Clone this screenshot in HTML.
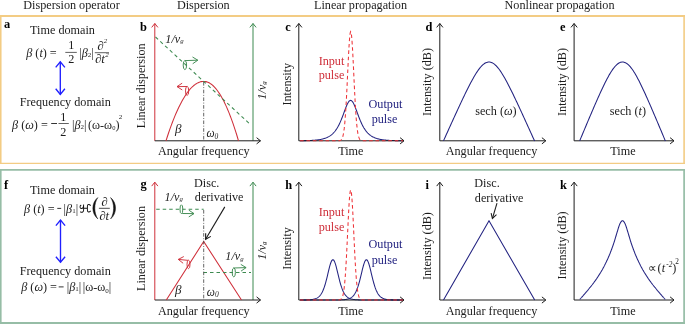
<!DOCTYPE html>
<html><head><meta charset="utf-8"><style>
html,body{margin:0;padding:0;background:#fff;}
svg{display:block;font-family:"Liberation Serif",serif;will-change:transform;}
</style></head><body>
<svg width="685" height="324" viewBox="0 0 685 324">
<rect x="0" y="0" width="685" height="324" fill="#fff"/>
<path d="M0.75,15 V164 M684.1,15 V164" stroke="#f3cc84" stroke-width="1.6" fill="none"/><path d="M0,16 H685" stroke="#f3cc84" stroke-width="2" fill="none"/><path d="M0,163.4 H685" stroke="#f3cc84" stroke-width="1.3" fill="none"/>
<path d="M0.75,169 V324 M684.1,169 V324" stroke="#96bda6" stroke-width="1.7" fill="none"/><path d="M0,169.9 H685" stroke="#96bda6" stroke-width="1.8" fill="none"/><path d="M0,323 H685" stroke="#96bda6" stroke-width="2" fill="none"/>
<path d="M300.00,140.72 L300.43,140.71 L300.86,140.71 L301.29,140.70 L301.72,140.69 L302.15,140.69 L302.57,140.68 L303.00,140.67 L303.43,140.67 L303.86,140.66 L304.29,140.65 L304.72,140.64 L305.15,140.63 L305.58,140.62 L306.01,140.61 L306.44,140.60 L306.87,140.59 L307.30,140.57 L307.73,140.56 L308.15,140.55 L308.58,140.53 L309.01,140.51 L309.44,140.50 L309.87,140.48 L310.30,140.46 L310.73,140.44 L311.16,140.42 L311.59,140.40 L312.02,140.37 L312.45,140.35 L312.88,140.32 L313.30,140.29 L313.73,140.26 L314.16,140.23 L314.59,140.19 L315.02,140.16 L315.45,140.12 L315.88,140.08 L316.31,140.03 L316.74,139.99 L317.17,139.94 L317.60,139.89 L318.02,139.83 L318.45,139.77 L318.88,139.71 L319.31,139.65 L319.74,139.58 L320.17,139.50 L320.60,139.42 L321.03,139.34 L321.46,139.25 L321.89,139.16 L322.32,139.06 L322.75,138.96 L323.18,138.85 L323.60,138.73 L324.03,138.61 L324.46,138.48 L324.89,138.34 L325.32,138.19 L325.75,138.04 L326.18,137.87 L326.61,137.69 L327.04,137.51 L327.47,137.31 L327.90,137.10 L328.32,136.88 L328.75,136.65 L329.18,136.40 L329.61,136.14 L330.04,135.86 L330.47,135.57 L330.90,135.26 L331.33,134.93 L331.76,134.58 L332.19,134.21 L332.62,133.82 L333.05,133.41 L333.48,132.97 L333.90,132.51 L334.33,132.03 L334.76,131.52 L335.19,130.98 L335.62,130.41 L336.05,129.80 L336.48,129.17 L336.91,128.51 L337.34,127.81 L337.77,127.07 L338.20,126.30 L338.62,125.50 L339.05,124.65 L339.48,123.77 L339.91,122.85 L340.34,121.90 L340.77,120.91 L341.20,119.88 L341.63,118.82 L342.06,117.73 L342.49,116.61 L342.92,115.47 L343.35,114.32 L343.77,113.15 L344.20,111.97 L344.63,110.80 L345.06,109.63 L345.49,108.49 L345.92,107.37 L346.35,106.30 L346.78,105.29 L347.21,104.33 L347.64,103.46 L348.07,102.68 L348.50,101.99 L348.93,101.42 L349.35,100.97 L349.78,100.65 L350.21,100.46 L350.64,100.40 L351.07,100.48 L351.50,100.70 L351.93,101.05 L352.36,101.52 L352.79,102.12 L353.22,102.82 L353.65,103.62 L354.07,104.51 L354.50,105.48 L354.93,106.51 L355.36,107.59 L355.79,108.71 L356.22,109.86 L356.65,111.02 L357.08,112.20 L357.51,113.37 L357.94,114.54 L358.37,115.70 L358.80,116.83 L359.23,117.94 L359.65,119.03 L360.08,120.08 L360.51,121.10 L360.94,122.08 L361.37,123.03 L361.80,123.94 L362.23,124.82 L362.66,125.65 L363.09,126.45 L363.52,127.22 L363.95,127.95 L364.38,128.64 L364.80,129.30 L365.23,129.92 L365.66,130.52 L366.09,131.08 L366.52,131.62 L366.95,132.13 L367.38,132.61 L367.81,133.06 L368.24,133.49 L368.67,133.90 L369.10,134.28 L369.52,134.65 L369.95,134.99 L370.38,135.32 L370.81,135.63 L371.24,135.92 L371.67,136.19 L372.10,136.45 L372.53,136.70 L372.96,136.93 L373.39,137.15 L373.82,137.35 L374.25,137.55 L374.68,137.73 L375.10,137.90 L375.53,138.07 L375.96,138.22 L376.39,138.37 L376.82,138.50 L377.25,138.63 L377.68,138.76 L378.11,138.87 L378.54,138.98 L378.97,139.08 L379.40,139.18 L379.82,139.27 L380.25,139.36 L380.68,139.44 L381.11,139.52 L381.54,139.59 L381.97,139.66 L382.40,139.72 L382.83,139.78 L383.26,139.84 L383.69,139.90 L384.12,139.95 L384.55,139.99 L384.98,140.04 L385.40,140.08 L385.83,140.12 L386.26,140.16 L386.69,140.20 L387.12,140.23 L387.55,140.26 L387.98,140.29 L388.41,140.32 L388.84,140.35 L389.27,140.38 L389.70,140.40 L390.12,140.42 L390.55,140.44 L390.98,140.46 L391.41,140.48 L391.84,140.50 L392.27,140.52 L392.70,140.53 L393.13,140.55 L393.56,140.56 L393.99,140.58 L394.42,140.59 L394.85,140.60 L395.27,140.61 L395.70,140.62 L396.13,140.63 L396.56,140.64 L396.99,140.65 L397.42,140.66 L397.85,140.67 L398.28,140.68 L398.71,140.68 L399.14,140.69 L399.57,140.70 L400.00,140.70 L400.43,140.71 L400.85,140.71 L401.28,140.72 L401.71,140.72 L402.14,140.73 L402.57,140.73 L403.00,140.73" stroke="#222280" stroke-width="1.05" fill="none"/>
<path d="M300.00,299.98 L300.43,299.98 L300.86,299.98 L301.29,299.98 L301.72,299.97 L302.15,299.97 L302.57,299.97 L303.00,299.96 L303.43,299.96 L303.86,299.95 L304.29,299.94 L304.72,299.94 L305.15,299.93 L305.58,299.92 L306.01,299.91 L306.44,299.90 L306.87,299.88 L307.30,299.87 L307.73,299.85 L308.15,299.83 L308.58,299.81 L309.01,299.79 L309.44,299.76 L309.87,299.73 L310.30,299.69 L310.73,299.65 L311.16,299.61 L311.59,299.56 L312.02,299.50 L312.45,299.44 L312.88,299.37 L313.30,299.29 L313.73,299.20 L314.16,299.09 L314.59,298.98 L315.02,298.85 L315.45,298.70 L315.88,298.54 L316.31,298.36 L316.74,298.15 L317.17,297.92 L317.60,297.66 L318.02,297.38 L318.45,297.05 L318.88,296.69 L319.31,296.29 L319.74,295.84 L320.17,295.35 L320.60,294.80 L321.03,294.18 L321.46,293.51 L321.89,292.76 L322.32,291.94 L322.75,291.05 L323.18,290.07 L323.60,289.00 L324.03,287.84 L324.46,286.59 L324.89,285.25 L325.32,283.82 L325.75,282.30 L326.18,280.70 L326.61,279.03 L327.04,277.30 L327.47,275.52 L327.90,273.72 L328.32,271.91 L328.75,270.12 L329.18,268.37 L329.61,266.71 L330.04,265.16 L330.47,263.74 L330.90,262.50 L331.33,261.46 L331.76,260.64 L332.19,260.07 L332.62,259.76 L333.05,259.72 L333.48,259.94 L333.90,260.43 L334.33,261.17 L334.76,262.14 L335.19,263.32 L335.62,264.69 L336.05,266.20 L336.48,267.83 L336.91,269.55 L337.34,271.33 L337.77,273.13 L338.20,274.94 L338.62,276.73 L339.05,278.48 L339.48,280.17 L339.91,281.80 L340.34,283.34 L340.77,284.80 L341.20,286.17 L341.63,287.45 L342.06,288.64 L342.49,289.73 L342.92,290.74 L343.35,291.67 L343.77,292.51 L344.20,293.28 L344.63,293.97 L345.06,294.61 L345.49,295.18 L345.92,295.69 L346.35,296.15 L346.78,296.57 L347.21,296.94 L347.64,297.28 L348.07,297.58 L348.50,297.84 L348.93,298.08 L349.35,298.30 L349.78,298.49 L350.21,298.65 L350.64,298.81 L351.07,298.94 L351.50,299.06 L351.93,299.16 L352.36,299.26 L352.79,299.34 L353.22,299.42 L353.65,299.48 L354.07,299.54 L354.50,299.59 L354.93,299.64 L355.36,299.68 L355.79,299.72 L356.22,299.75 L356.65,299.78 L357.08,299.80 L357.51,299.83 L357.94,299.85 L358.37,299.86 L358.80,299.88 L359.23,299.89 L359.65,299.90 L360.08,299.92 L360.51,299.93 L360.94,299.93 L361.37,299.94 L361.80,299.95 L362.23,299.95 L362.66,299.96 L363.09,299.96 L363.52,299.97 L363.95,299.97 L364.38,299.97 L364.80,299.98 L365.23,299.98 L365.66,299.98 L366.09,299.98 L366.52,299.99 L366.95,299.99 L367.38,299.99 L367.81,299.99 L368.24,299.99 L368.67,299.99 L369.10,299.99 L369.52,299.99 L369.95,299.99 L370.38,300.00 L370.81,300.00 L371.24,300.00 L371.67,300.00 L372.10,300.00 L372.53,300.00 L372.96,300.00 L373.39,300.00 L373.82,300.00 L374.25,300.00 L374.68,300.00 L375.10,300.00 L375.53,300.00 L375.96,300.00 L376.39,300.00 L376.82,300.00 L377.25,300.00 L377.68,300.00 L378.11,300.00 L378.54,300.00 L378.97,300.00 L379.40,300.00 L379.82,300.00 L380.25,300.00 L380.68,300.00 L381.11,300.00 L381.54,300.00 L381.97,300.00 L382.40,300.00 L382.83,300.00 L383.26,300.00 L383.69,300.00 L384.12,300.00 L384.55,300.00 L384.98,300.00 L385.40,300.00 L385.83,300.00 L386.26,300.00 L386.69,300.00 L387.12,300.00 L387.55,300.00 L387.98,300.00 L388.41,300.00 L388.84,300.00 L389.27,300.00 L389.70,300.00 L390.12,300.00 L390.55,300.00 L390.98,300.00 L391.41,300.00 L391.84,300.00 L392.27,300.00 L392.70,300.00 L393.13,300.00 L393.56,300.00 L393.99,300.00 L394.42,300.00 L394.85,300.00 L395.27,300.00 L395.70,300.00 L396.13,300.00 L396.56,300.00 L396.99,300.00 L397.42,300.00 L397.85,300.00 L398.28,300.00 L398.71,300.00 L399.14,300.00 L399.57,300.00 L400.00,300.00 L400.43,300.00 L400.85,300.00 L401.28,300.00 L401.71,300.00 L402.14,300.00 L402.57,300.00 L403.00,300.00" stroke="#222280" stroke-width="1.05" fill="none"/>
<path d="M300.00,300.00 L300.43,300.00 L300.86,300.00 L301.29,300.00 L301.72,300.00 L302.15,300.00 L302.57,300.00 L303.00,300.00 L303.43,300.00 L303.86,300.00 L304.29,300.00 L304.72,300.00 L305.15,300.00 L305.58,300.00 L306.01,300.00 L306.44,300.00 L306.87,300.00 L307.30,300.00 L307.73,300.00 L308.15,300.00 L308.58,300.00 L309.01,300.00 L309.44,300.00 L309.87,300.00 L310.30,300.00 L310.73,300.00 L311.16,300.00 L311.59,300.00 L312.02,300.00 L312.45,300.00 L312.88,300.00 L313.30,300.00 L313.73,300.00 L314.16,300.00 L314.59,300.00 L315.02,300.00 L315.45,300.00 L315.88,300.00 L316.31,300.00 L316.74,300.00 L317.17,300.00 L317.60,300.00 L318.02,300.00 L318.45,300.00 L318.88,300.00 L319.31,300.00 L319.74,300.00 L320.17,300.00 L320.60,300.00 L321.03,300.00 L321.46,300.00 L321.89,300.00 L322.32,300.00 L322.75,300.00 L323.18,300.00 L323.60,300.00 L324.03,300.00 L324.46,300.00 L324.89,300.00 L325.32,300.00 L325.75,300.00 L326.18,300.00 L326.61,300.00 L327.04,300.00 L327.47,300.00 L327.90,300.00 L328.32,300.00 L328.75,300.00 L329.18,300.00 L329.61,299.99 L330.04,299.99 L330.47,299.99 L330.90,299.99 L331.33,299.99 L331.76,299.99 L332.19,299.99 L332.62,299.99 L333.05,299.99 L333.48,299.98 L333.90,299.98 L334.33,299.98 L334.76,299.98 L335.19,299.97 L335.62,299.97 L336.05,299.97 L336.48,299.96 L336.91,299.96 L337.34,299.95 L337.77,299.94 L338.20,299.94 L338.62,299.93 L339.05,299.92 L339.48,299.91 L339.91,299.90 L340.34,299.88 L340.77,299.87 L341.20,299.85 L341.63,299.83 L342.06,299.81 L342.49,299.79 L342.92,299.76 L343.35,299.73 L343.77,299.70 L344.20,299.66 L344.63,299.61 L345.06,299.56 L345.49,299.51 L345.92,299.44 L346.35,299.37 L346.78,299.29 L347.21,299.20 L347.64,299.10 L348.07,298.99 L348.50,298.86 L348.93,298.71 L349.35,298.55 L349.78,298.37 L350.21,298.17 L350.64,297.94 L351.07,297.68 L351.50,297.39 L351.93,297.07 L352.36,296.72 L352.79,296.32 L353.22,295.87 L353.65,295.38 L354.07,294.83 L354.50,294.22 L354.93,293.55 L355.36,292.81 L355.79,291.99 L356.22,291.10 L356.65,290.12 L357.08,289.06 L357.51,287.91 L357.94,286.67 L358.37,285.33 L358.80,283.91 L359.23,282.39 L359.65,280.80 L360.08,279.13 L360.51,277.40 L360.94,275.62 L361.37,273.82 L361.80,272.01 L362.23,270.22 L362.66,268.47 L363.09,266.80 L363.52,265.24 L363.95,263.82 L364.38,262.57 L364.80,261.51 L365.23,260.68 L365.66,260.10 L366.09,259.77 L366.52,259.71 L366.95,259.92 L367.38,260.40 L367.81,261.12 L368.24,262.08 L368.67,263.25 L369.10,264.60 L369.52,266.11 L369.95,267.73 L370.38,269.45 L370.81,271.22 L371.24,273.03 L371.67,274.84 L372.10,276.63 L372.53,278.38 L372.96,280.08 L373.39,281.70 L373.82,283.25 L374.25,284.72 L374.68,286.09 L375.10,287.38 L375.53,288.57 L375.96,289.67 L376.39,290.68 L376.82,291.61 L377.25,292.46 L377.68,293.23 L378.11,293.94 L378.54,294.57 L378.97,295.14 L379.40,295.66 L379.82,296.13 L380.25,296.55 L380.68,296.92 L381.11,297.26 L381.54,297.56 L381.97,297.83 L382.40,298.07 L382.83,298.28 L383.26,298.47 L383.69,298.65 L384.12,298.80 L384.55,298.93 L384.98,299.05 L385.40,299.16 L385.83,299.25 L386.26,299.34 L386.69,299.41 L387.12,299.48 L387.55,299.54 L387.98,299.59 L388.41,299.64 L388.84,299.68 L389.27,299.72 L389.70,299.75 L390.12,299.78 L390.55,299.80 L390.98,299.82 L391.41,299.84 L391.84,299.86 L392.27,299.88 L392.70,299.89 L393.13,299.90 L393.56,299.92 L393.99,299.92 L394.42,299.93 L394.85,299.94 L395.27,299.95 L395.70,299.95 L396.13,299.96 L396.56,299.96 L396.99,299.97 L397.42,299.97 L397.85,299.97 L398.28,299.98 L398.71,299.98 L399.14,299.98 L399.57,299.98 L400.00,299.99 L400.43,299.99 L400.85,299.99 L401.28,299.99 L401.71,299.99 L402.14,299.99 L402.57,299.99 L403.00,299.99" stroke="#222280" stroke-width="1.05" fill="none"/>
<text x="71.5" y="9" font-size="12.2" text-anchor="middle" fill="#1c1c1c" >Dispersion operator</text>
<text x="203.3" y="9" font-size="12.2" text-anchor="middle" fill="#1c1c1c" >Dispersion</text>
<text x="360.5" y="9" font-size="12.2" text-anchor="middle" fill="#1c1c1c" >Linear propagation</text>
<text x="559.5" y="9" font-size="12.2" text-anchor="middle" fill="#1c1c1c" >Nonlinear propagation</text>
<text x="4.0" y="27.8" font-size="12.4" text-anchor="start" fill="#000" font-weight="bold">a</text>
<text x="139.9" y="31.2" font-size="12.4" text-anchor="start" fill="#000" font-weight="bold">b</text>
<text x="285.3" y="30.6" font-size="12.4" text-anchor="start" fill="#000" font-weight="bold">c</text>
<text x="425.5" y="30.7" font-size="12.4" text-anchor="start" fill="#000" font-weight="bold">d</text>
<text x="559.9" y="30.6" font-size="12.4" text-anchor="start" fill="#000" font-weight="bold">e</text>
<path d="M154.8,140.8 L154.8,23.5" stroke="#cf2f3a" stroke-width="1.0" fill="none"/><path d="M151.70000000000002,27.4 L154.8,23.5 L157.9,27.4" stroke="#cf2f3a" stroke-width="1.0" fill="none"/>
<path d="M253,140.8 L253,23.5" stroke="#3d8a50" stroke-width="1.0" fill="none"/><path d="M249.9,27.4 L253,23.5 L256.1,27.4" stroke="#3d8a50" stroke-width="1.0" fill="none"/>
<path d="M154.8,140.8 L260.5,140.8" stroke="#1c1c1c" stroke-width="1.0" fill="none"/><path d="M256.6,137.70000000000002 L260.5,140.8 L256.6,143.9" stroke="#1c1c1c" stroke-width="1.0" fill="none"/>
<text transform="translate(145.3,85.8) rotate(-90)" font-size="12.2" text-anchor="middle" fill="#1c1c1c" >Linear dispersion</text>
<text transform="translate(265.6,90.4) rotate(-90)" font-size="12" text-anchor="middle" fill="#1c1c1c" font-style="italic">1/v<tspan font-size="6.8" dy="0.4">g</tspan></text>
<text x="203.8" y="155" font-size="12.2" text-anchor="middle" fill="#1c1c1c" >Angular frequency</text>
<path d="M298.8,140.8 L298.8,23.5" stroke="#1c1c1c" stroke-width="1.0" fill="none"/><path d="M295.7,27.4 L298.8,23.5 L301.90000000000003,27.4" stroke="#1c1c1c" stroke-width="1.0" fill="none"/>
<path d="M298.8,140.8 L404,140.8" stroke="#1c1c1c" stroke-width="1.0" fill="none"/><path d="M400.1,137.70000000000002 L404,140.8 L400.1,143.9" stroke="#1c1c1c" stroke-width="1.0" fill="none"/>
<text transform="translate(290.9,84.2) rotate(-90)" font-size="12.2" text-anchor="middle" fill="#1c1c1c" >Intensity</text>
<text x="350.8" y="155.4" font-size="12.2" text-anchor="middle" fill="#1c1c1c" >Time</text>
<path d="M439.8,140.8 L439.8,23.5" stroke="#1c1c1c" stroke-width="1.0" fill="none"/><path d="M436.7,27.4 L439.8,23.5 L442.90000000000003,27.4" stroke="#1c1c1c" stroke-width="1.0" fill="none"/>
<path d="M439.8,140.8 L545.8,140.8" stroke="#1c1c1c" stroke-width="1.0" fill="none"/><path d="M541.9,137.70000000000002 L545.8,140.8 L541.9,143.9" stroke="#1c1c1c" stroke-width="1.0" fill="none"/>
<text transform="translate(431.3,82) rotate(-90)" font-size="12.2" text-anchor="middle" fill="#1c1c1c" >Intensity (dB)</text>
<text x="491.5" y="155" font-size="12.2" text-anchor="middle" fill="#1c1c1c" >Angular frequency</text>
<path d="M574.1,140.8 L574.1,23.5" stroke="#1c1c1c" stroke-width="1.0" fill="none"/><path d="M571.0,27.4 L574.1,23.5 L577.2,27.4" stroke="#1c1c1c" stroke-width="1.0" fill="none"/>
<path d="M574.1,140.8 L674,140.8" stroke="#1c1c1c" stroke-width="1.0" fill="none"/><path d="M670.1,137.70000000000002 L674,140.8 L670.1,143.9" stroke="#1c1c1c" stroke-width="1.0" fill="none"/>
<text transform="translate(565.9,82) rotate(-90)" font-size="12.2" text-anchor="middle" fill="#1c1c1c" >Intensity (dB)</text>
<text x="623" y="155" font-size="12.2" text-anchor="middle" fill="#1c1c1c" >Time</text>
<text x="331.5" y="64.8" font-size="12.2" text-anchor="middle" fill="#cf2f3a" >Input</text>
<text x="331.5" y="79.1" font-size="12.2" text-anchor="middle" fill="#cf2f3a" >pulse</text>
<text x="385.5" y="108" font-size="12.2" text-anchor="middle" fill="#222280" >Output</text>
<text x="384.5" y="122.7" font-size="12.2" text-anchor="middle" fill="#222280" >pulse</text>
<text x="4.0" y="189.2" font-size="12.4" text-anchor="start" fill="#000" font-weight="bold">f</text>
<text x="140.4" y="188.4" font-size="12.4" text-anchor="start" fill="#000" font-weight="bold">g</text>
<text x="285.3" y="189.2" font-size="12.4" text-anchor="start" fill="#000" font-weight="bold">h</text>
<text x="425.5" y="189.2" font-size="12.4" text-anchor="start" fill="#000" font-weight="bold">i</text>
<text x="559.9" y="189.2" font-size="12.4" text-anchor="start" fill="#000" font-weight="bold">k</text>
<path d="M154.8,300.0 L154.8,182.2" stroke="#cf2f3a" stroke-width="1.0" fill="none"/><path d="M151.70000000000002,186.1 L154.8,182.2 L157.9,186.1" stroke="#cf2f3a" stroke-width="1.0" fill="none"/>
<path d="M253,300.0 L253,182.2" stroke="#3d8a50" stroke-width="1.0" fill="none"/><path d="M249.9,186.1 L253,182.2 L256.1,186.1" stroke="#3d8a50" stroke-width="1.0" fill="none"/>
<path d="M154.8,300.0 L260.5,300.0" stroke="#1c1c1c" stroke-width="1.0" fill="none"/><path d="M256.6,296.9 L260.5,300.0 L256.6,303.1" stroke="#1c1c1c" stroke-width="1.0" fill="none"/>
<text transform="translate(145.3,248.5) rotate(-90)" font-size="12.2" text-anchor="middle" fill="#1c1c1c" >Linear dispersion</text>
<text transform="translate(265.6,250.6) rotate(-90)" font-size="12" text-anchor="middle" fill="#1c1c1c" font-style="italic">1/v<tspan font-size="6.8" dy="0.4">g</tspan></text>
<text x="203.8" y="314.8" font-size="12.2" text-anchor="middle" fill="#1c1c1c" >Angular frequency</text>
<path d="M298.8,300.0 L298.8,182.2" stroke="#1c1c1c" stroke-width="1.0" fill="none"/><path d="M295.7,186.1 L298.8,182.2 L301.90000000000003,186.1" stroke="#1c1c1c" stroke-width="1.0" fill="none"/>
<path d="M298.8,300.0 L404,300.0" stroke="#1c1c1c" stroke-width="1.0" fill="none"/><path d="M400.1,296.9 L404,300.0 L400.1,303.1" stroke="#1c1c1c" stroke-width="1.0" fill="none"/>
<text transform="translate(290.9,248.39999999999998) rotate(-90)" font-size="12.2" text-anchor="middle" fill="#1c1c1c" >Intensity</text>
<text x="350.8" y="315.1" font-size="12.2" text-anchor="middle" fill="#1c1c1c" >Time</text>
<path d="M439.8,300.0 L439.8,182.2" stroke="#1c1c1c" stroke-width="1.0" fill="none"/><path d="M436.7,186.1 L439.8,182.2 L442.90000000000003,186.1" stroke="#1c1c1c" stroke-width="1.0" fill="none"/>
<path d="M439.8,300.0 L545.8,300.0" stroke="#1c1c1c" stroke-width="1.0" fill="none"/><path d="M541.9,296.9 L545.8,300.0 L541.9,303.1" stroke="#1c1c1c" stroke-width="1.0" fill="none"/>
<text transform="translate(431.3,246.1) rotate(-90)" font-size="12.2" text-anchor="middle" fill="#1c1c1c" >Intensity (dB)</text>
<text x="491.5" y="314.9" font-size="12.2" text-anchor="middle" fill="#1c1c1c" >Angular frequency</text>
<path d="M574.1,300.0 L574.1,182.2" stroke="#1c1c1c" stroke-width="1.0" fill="none"/><path d="M571.0,186.1 L574.1,182.2 L577.2,186.1" stroke="#1c1c1c" stroke-width="1.0" fill="none"/>
<path d="M574.1,300.0 L674,300.0" stroke="#1c1c1c" stroke-width="1.0" fill="none"/><path d="M670.1,296.9 L674,300.0 L670.1,303.1" stroke="#1c1c1c" stroke-width="1.0" fill="none"/>
<text transform="translate(565.9,245.39999999999998) rotate(-90)" font-size="12.2" text-anchor="middle" fill="#1c1c1c" >Intensity (dB)</text>
<text x="623" y="314.9" font-size="12.2" text-anchor="middle" fill="#1c1c1c" >Time</text>
<text x="331.5" y="216" font-size="12.2" text-anchor="middle" fill="#cf2f3a" >Input</text>
<text x="331.5" y="231" font-size="12.2" text-anchor="middle" fill="#cf2f3a" >pulse</text>
<text x="385.5" y="248" font-size="12.2" text-anchor="middle" fill="#222280" >Output</text>
<text x="384.5" y="264.3" font-size="12.2" text-anchor="middle" fill="#222280" >pulse</text>
<text x="62.5" y="34" font-size="12.2" text-anchor="middle" fill="#1c1c1c" >Time domain</text>
<text x="65.3" y="106" font-size="12.2" text-anchor="middle" fill="#1c1c1c" >Frequency domain</text>
<text x="62.5" y="193.5" font-size="12.2" text-anchor="middle" fill="#1c1c1c" >Time domain</text>
<text x="65.3" y="274.7" font-size="12.2" text-anchor="middle" fill="#1c1c1c" >Frequency domain</text>
<path d="M60.3,61.8 L60.3,94.4" stroke="#1f1fff" stroke-width="1.35" fill="none"/><path d="M55.699999999999996,67.39999999999999 L60.3,61.8 L64.89999999999999,67.39999999999999" stroke="#1f1fff" stroke-width="1.35" fill="none"/><path d="M55.699999999999996,88.80000000000001 L60.3,94.4 L64.89999999999999,88.80000000000001" stroke="#1f1fff" stroke-width="1.35" fill="none"/>
<path d="M60.5,220 L60.5,262.3" stroke="#1f1fff" stroke-width="1.35" fill="none"/><path d="M55.9,225.6 L60.5,220 L65.1,225.6" stroke="#1f1fff" stroke-width="1.35" fill="none"/><path d="M55.9,256.7 L60.5,262.3 L65.1,256.7" stroke="#1f1fff" stroke-width="1.35" fill="none"/>
<text x="26.2" y="57.3" font-size="12.2" fill="#1c1c1c"><tspan font-style="italic">β</tspan> (<tspan font-style="italic">t</tspan>) =</text>
<text x="71.2" y="49.3" font-size="12.2" text-anchor="middle" fill="#1c1c1c" >1</text>
<path d="M65.3,52.4 H76.8" stroke="#1c1c1c" stroke-width="0.7"/>
<text x="71.2" y="62.8" font-size="12.2" text-anchor="middle" fill="#1c1c1c" >2</text>
<text x="79.3" y="57.3" font-size="12.2" fill="#1c1c1c">|<tspan font-style="italic">β</tspan><tspan font-size="7">2</tspan>|</text>
<text x="97.2" y="50" font-size="12.8" fill="#1c1c1c" font-style="italic">∂<tspan font-size="7" dy="-7" dx="0.3">2</tspan></text>
<path d="M94.8,52.7 H109" stroke="#1c1c1c" stroke-width="0.7"/>
<text x="95" y="63" font-size="12.8" fill="#1c1c1c" font-style="italic">∂t<tspan font-size="7" dy="-6" dx="0.3">2</tspan></text>
<text x="12" y="128.7" font-size="12.2" fill="#1c1c1c"><tspan font-style="italic">β</tspan> (<tspan font-style="italic">ω</tspan>) =</text>
<text x="63.3" y="120.5" font-size="12.2" text-anchor="middle" fill="#1c1c1c" >1</text>
<path d="M51.2,123.5 H57" stroke="#1c1c1c" stroke-width="0.9"/>
<path d="M58.5,123.5 H68.8" stroke="#1c1c1c" stroke-width="0.7"/>
<text x="63.3" y="135.8" font-size="12.2" text-anchor="middle" fill="#1c1c1c" >2</text>
<text x="72" y="128.7" font-size="12.2" fill="#1c1c1c">|<tspan font-style="italic">β</tspan><tspan font-size="7">2</tspan>|<tspan dx="1.5">(ω-ω</tspan><tspan font-size="6.5" dy="1.5">0</tspan><tspan dy="-1.5">)</tspan><tspan font-size="7" dy="-10.2" dx="-0.6">2</tspan></text>
<text x="24" y="213" font-size="12.2" fill="#1c1c1c"><tspan font-style="italic">β</tspan> (<tspan font-style="italic">t</tspan>) =</text>
<path d="M57.3,208.4 H61.2" stroke="#1c1c1c" stroke-width="0.9"/>
<text x="63.6" y="213" font-size="12.2" fill="#1c1c1c">|<tspan font-style="italic">β</tspan><tspan font-size="7">1</tspan>|</text>
<path d="M80.1,205.3 C78.6,206.2 78.8,208.4 80.6,208.5 C82.4,208.6 83.2,207.4 83.2,204.4 L83.2,210.2 C83.2,211.8 81.6,212.6 79.7,211.9 M83.2,208.2 H87.5 M90.9,205.4 C90.2,204.3 87.5,203.9 87.5,206 L87.5,210.2 C87.5,212.2 89.5,212.6 91,211.2" stroke="#111" stroke-width="1.05" fill="none" stroke-linecap="round" transform="translate(85.2,0) scale(0.88,1) translate(-85,0)"/>
<path d="M97.8,197.6 C91.2,203 91.2,213.5 97.8,218.9 C93.8,213 93.8,203.5 97.8,197.6 Z" fill="#111" stroke="#111" stroke-width="0.5"/>
<path d="M110.6,197.6 C117.2,203 117.2,213.5 110.6,218.9 C114.6,213 114.6,203.5 110.6,197.6 Z" fill="#111" stroke="#111" stroke-width="0.5"/>
<text x="104.5" y="205.6" font-size="12.8" fill="#1c1c1c" font-style="italic" text-anchor="middle">∂</text>
<path d="M98.9,208.3 H109.8" stroke="#1c1c1c" stroke-width="0.8"/>
<text x="104.2" y="219.5" font-size="12.8" fill="#1c1c1c" font-style="italic" text-anchor="middle">∂t</text>
<text x="21.2" y="291.3" font-size="12.2" fill="#1c1c1c"><tspan font-style="italic">β</tspan> (<tspan font-style="italic">ω</tspan>) =</text>
<path d="M58.7,286.9 H63.6" stroke="#1c1c1c" stroke-width="0.9"/>
<text x="66.8" y="291.3" font-size="12.2" fill="#1c1c1c">|<tspan font-style="italic">β</tspan><tspan font-size="7">1</tspan>|</text>
<text x="82.8" y="291.3" font-size="12.2" fill="#1c1c1c">|ω-ω<tspan font-size="7" dy="1.5">0</tspan><tspan dy="-1.5">|</tspan></text>
<path d="M166.00,140.80 L166.91,137.98 L167.81,135.23 L168.72,132.54 L169.62,129.93 L170.53,127.38 L171.44,124.90 L172.34,122.49 L173.25,120.15 L174.16,117.88 L175.06,115.67 L175.97,113.54 L176.88,111.47 L177.78,109.48 L178.69,107.55 L179.59,105.69 L180.50,103.89 L181.41,102.17 L182.31,100.52 L183.22,98.93 L184.12,97.41 L185.03,95.97 L185.94,94.59 L186.84,93.27 L187.75,92.03 L188.66,90.86 L189.56,89.75 L190.47,88.72 L191.38,87.75 L192.28,86.85 L193.19,86.02 L194.09,85.26 L195.00,84.56 L195.91,83.94 L196.81,83.38 L197.72,82.90 L198.62,82.48 L199.53,82.13 L200.44,81.84 L201.34,81.63 L202.25,81.49 L203.16,81.41 L204.06,81.41 L204.97,81.48 L205.88,81.63 L206.78,81.87 L207.69,82.18 L208.59,82.57 L209.50,83.05 L210.41,83.61 L211.31,84.24 L212.22,84.96 L213.12,85.76 L214.03,86.64 L214.94,87.59 L215.84,88.63 L216.75,89.75 L217.66,90.95 L218.56,92.23 L219.47,93.60 L220.38,95.04 L221.28,96.56 L222.19,98.16 L223.09,99.85 L224.00,101.61 L224.91,103.46 L225.81,105.38 L226.72,107.39 L227.62,109.48 L228.53,111.64 L229.44,113.89 L230.34,116.22 L231.25,118.63 L232.16,121.12 L233.06,123.69 L233.97,126.34 L234.88,129.07 L235.78,131.88 L236.69,134.77 L237.59,137.75 L238.50,140.80" stroke="#cf2f3a" stroke-width="1.05" fill="none"/>
<path d="M155.5,37 L250.7,124.8" stroke="#3d8a50" stroke-width="1.05" stroke-dasharray="3.5,3" fill="none"/>
<path d="M203.7,82 V140.4" stroke="#484848" stroke-width="0.85" stroke-dasharray="3.6,1.6,0.9,1.6" fill="none"/>
<text x="165.3" y="42.9" font-size="12.2" fill="#1c1c1c" font-style="italic">1/v<tspan font-size="6.8" dy="0.4">g</tspan></text>
<text x="174.9" y="133" font-size="13" fill="#1c1c1c" font-style="italic">β</text>
<text x="206.4" y="137.2" font-size="11.5" fill="#1c1c1c" font-style="italic">ω<tspan font-size="7.5" dy="1.3">0</tspan></text>
<ellipse cx="184.9" cy="65.1" rx="1.7" ry="4.5" stroke="#3d8a50" stroke-width="0.95" fill="none"/><path d="M184.90,60.60 L197.80,60.20" stroke="#3d8a50" stroke-width="0.95" fill="none"/><path d="M192.71,63.74 L197.80,60.20 L192.50,56.99" stroke="#3d8a50" stroke-width="0.95" fill="none"/>
<ellipse cx="187.1" cy="90.9" rx="1.6" ry="4.5" stroke="#cf2f3a" stroke-width="0.95" fill="none"/><path d="M187.10,86.50 L177.00,86.60" stroke="#cf2f3a" stroke-width="0.95" fill="none"/><path d="M182.17,83.17 L177.00,86.60 L182.23,89.93" stroke="#cf2f3a" stroke-width="0.95" fill="none"/>
<path d="M300.00,140.80 L300.43,140.80 L300.86,140.80 L301.29,140.80 L301.72,140.80 L302.15,140.80 L302.57,140.80 L303.00,140.80 L303.43,140.80 L303.86,140.80 L304.29,140.80 L304.72,140.80 L305.15,140.80 L305.58,140.80 L306.01,140.80 L306.44,140.80 L306.87,140.80 L307.30,140.80 L307.73,140.80 L308.15,140.80 L308.58,140.80 L309.01,140.80 L309.44,140.80 L309.87,140.80 L310.30,140.80 L310.73,140.80 L311.16,140.80 L311.59,140.80 L312.02,140.80 L312.45,140.80 L312.88,140.80 L313.30,140.80 L313.73,140.80 L314.16,140.80 L314.59,140.80 L315.02,140.80 L315.45,140.80 L315.88,140.80 L316.31,140.80 L316.74,140.80 L317.17,140.80 L317.60,140.80 L318.02,140.80 L318.45,140.80 L318.88,140.80 L319.31,140.80 L319.74,140.80 L320.17,140.80 L320.60,140.80 L321.03,140.80 L321.46,140.80 L321.89,140.80 L322.32,140.80 L322.75,140.80 L323.18,140.80 L323.60,140.80 L324.03,140.80 L324.46,140.80 L324.89,140.80 L325.32,140.80 L325.75,140.80 L326.18,140.80 L326.61,140.80 L327.04,140.80 L327.47,140.80 L327.90,140.80 L328.32,140.80 L328.75,140.80 L329.18,140.80 L329.61,140.80 L330.04,140.80 L330.47,140.80 L330.90,140.80 L331.33,140.80 L331.76,140.80 L332.19,140.80 L332.62,140.80 L333.05,140.80 L333.48,140.80 L333.90,140.80 L334.33,140.80 L334.76,140.80 L335.19,140.80 L335.62,140.80 L336.05,140.80 L336.48,140.80 L336.91,140.79 L337.34,140.79 L337.77,140.78 L338.20,140.77 L338.62,140.74 L339.05,140.71 L339.48,140.64 L339.91,140.54 L340.34,140.39 L340.77,140.15 L341.20,139.80 L341.63,139.29 L342.06,138.56 L342.49,137.53 L342.92,136.13 L343.35,134.25 L343.77,131.78 L344.20,128.63 L344.63,124.69 L345.06,119.88 L345.49,114.15 L345.92,107.49 L346.35,99.96 L346.78,91.68 L347.21,82.84 L347.64,73.70 L348.07,64.60 L348.50,55.91 L348.93,48.03 L349.35,41.33 L349.78,36.18 L350.21,32.84 L350.64,31.52 L351.07,32.28 L351.50,35.08 L351.93,39.76 L352.36,46.07 L352.79,53.67 L353.22,62.18 L353.65,71.21 L354.07,80.37 L354.50,89.32 L354.93,97.78 L355.36,105.53 L355.79,112.43 L356.22,118.42 L356.65,123.47 L357.08,127.64 L357.51,131.00 L357.94,133.64 L358.37,135.67 L358.80,137.19 L359.23,138.31 L359.65,139.11 L360.08,139.68 L360.51,140.07 L360.94,140.33 L361.37,140.51 L361.80,140.62 L362.23,140.69 L362.66,140.74 L363.09,140.76 L363.52,140.78 L363.95,140.79 L364.38,140.79 L364.80,140.80 L365.23,140.80 L365.66,140.80 L366.09,140.80 L366.52,140.80 L366.95,140.80 L367.38,140.80 L367.81,140.80 L368.24,140.80 L368.67,140.80 L369.10,140.80 L369.52,140.80 L369.95,140.80 L370.38,140.80 L370.81,140.80 L371.24,140.80 L371.67,140.80 L372.10,140.80 L372.53,140.80 L372.96,140.80 L373.39,140.80 L373.82,140.80 L374.25,140.80 L374.68,140.80 L375.10,140.80 L375.53,140.80 L375.96,140.80 L376.39,140.80 L376.82,140.80 L377.25,140.80 L377.68,140.80 L378.11,140.80 L378.54,140.80 L378.97,140.80 L379.40,140.80 L379.82,140.80 L380.25,140.80 L380.68,140.80 L381.11,140.80 L381.54,140.80 L381.97,140.80 L382.40,140.80 L382.83,140.80 L383.26,140.80 L383.69,140.80 L384.12,140.80 L384.55,140.80 L384.98,140.80 L385.40,140.80 L385.83,140.80 L386.26,140.80 L386.69,140.80 L387.12,140.80 L387.55,140.80 L387.98,140.80 L388.41,140.80 L388.84,140.80 L389.27,140.80 L389.70,140.80 L390.12,140.80 L390.55,140.80 L390.98,140.80 L391.41,140.80 L391.84,140.80 L392.27,140.80 L392.70,140.80 L393.13,140.80 L393.56,140.80 L393.99,140.80 L394.42,140.80 L394.85,140.80 L395.27,140.80 L395.70,140.80 L396.13,140.80 L396.56,140.80 L396.99,140.80 L397.42,140.80 L397.85,140.80 L398.28,140.80 L398.71,140.80 L399.14,140.80 L399.57,140.80 L400.00,140.80 L400.43,140.80 L400.85,140.80 L401.28,140.80 L401.71,140.80 L402.14,140.80 L402.57,140.80 L403.00,140.80" stroke="#ee3338" stroke-width="1.05" stroke-dasharray="3.6,2.8" fill="none"/>
<path d="M443.50,140.80 L444.26,139.12 L445.02,137.44 L445.78,135.76 L446.54,134.09 L447.30,132.41 L448.06,130.74 L448.81,129.06 L449.57,127.39 L450.33,125.72 L451.09,124.05 L451.85,122.38 L452.61,120.72 L453.37,119.05 L454.13,117.39 L454.89,115.74 L455.65,114.08 L456.41,112.43 L457.17,110.78 L457.92,109.14 L458.68,107.50 L459.44,105.87 L460.20,104.24 L460.96,102.62 L461.72,101.01 L462.48,99.40 L463.24,97.81 L464.00,96.22 L464.76,94.64 L465.52,93.08 L466.28,91.52 L467.03,89.99 L467.79,88.46 L468.55,86.96 L469.31,85.47 L470.07,84.00 L470.83,82.56 L471.59,81.14 L472.35,79.75 L473.11,78.39 L473.87,77.05 L474.63,75.76 L475.38,74.50 L476.14,73.28 L476.90,72.11 L477.66,70.98 L478.42,69.90 L479.18,68.88 L479.94,67.92 L480.70,67.01 L481.46,66.17 L482.22,65.40 L482.98,64.70 L483.74,64.08 L484.50,63.53 L485.25,63.06 L486.01,62.68 L486.77,62.38 L487.53,62.16 L488.29,62.04 L489.05,62.00 L489.81,62.05 L490.57,62.19 L491.33,62.41 L492.09,62.72 L492.85,63.12 L493.61,63.60 L494.36,64.16 L495.12,64.79 L495.88,65.50 L496.64,66.28 L497.40,67.13 L498.16,68.04 L498.92,69.01 L499.68,70.04 L500.44,71.13 L501.20,72.26 L501.96,73.44 L502.72,74.66 L503.47,75.93 L504.23,77.23 L504.99,78.56 L505.75,79.93 L506.51,81.33 L507.27,82.75 L508.03,84.20 L508.79,85.67 L509.55,87.15 L510.31,88.66 L511.07,90.19 L511.83,91.73 L512.58,93.28 L513.34,94.85 L514.10,96.43 L514.86,98.02 L515.62,99.61 L516.38,101.22 L517.14,102.84 L517.90,104.46 L518.66,106.08 L519.42,107.72 L520.18,109.36 L520.94,111.00 L521.69,112.65 L522.45,114.30 L523.21,115.95 L523.97,117.61 L524.73,119.27 L525.49,120.94 L526.25,122.60 L527.01,124.27 L527.77,125.94 L528.53,127.61 L529.29,129.28 L530.05,130.96 L530.80,132.63 L531.56,134.31 L532.32,135.98 L533.08,137.66 L533.84,139.34 L534.60,141.02" stroke="#222280" stroke-width="1.05" fill="none"/>
<text x="475.2" y="115.4" font-size="12.2" fill="#1c1c1c">sech (<tspan font-style="italic">ω</tspan>)</text>
<path d="M579.70,140.80 L580.41,139.09 L581.13,137.39 L581.84,135.68 L582.56,133.98 L583.27,132.28 L583.99,130.58 L584.70,128.88 L585.41,127.18 L586.13,125.49 L586.84,123.80 L587.56,122.11 L588.27,120.42 L588.98,118.73 L589.70,117.05 L590.41,115.37 L591.13,113.70 L591.84,112.03 L592.56,110.37 L593.27,108.71 L593.98,107.05 L594.70,105.41 L595.41,103.77 L596.13,102.13 L596.84,100.51 L597.55,98.90 L598.27,97.29 L598.98,95.70 L599.70,94.12 L600.41,92.55 L601.12,91.00 L601.84,89.46 L602.55,87.94 L603.27,86.44 L603.98,84.96 L604.70,83.50 L605.41,82.07 L606.12,80.66 L606.84,79.29 L607.55,77.94 L608.27,76.63 L608.98,75.36 L609.70,74.12 L610.41,72.93 L611.12,71.78 L611.84,70.68 L612.55,69.63 L613.27,68.63 L613.98,67.70 L614.69,66.82 L615.41,66.01 L616.12,65.27 L616.84,64.59 L617.55,63.99 L618.26,63.47 L618.98,63.02 L619.69,62.65 L620.41,62.36 L621.12,62.16 L621.84,62.04 L622.55,62.00 L623.26,62.05 L623.98,62.18 L624.69,62.40 L625.41,62.70 L626.12,63.08 L626.84,63.53 L627.55,64.07 L628.26,64.68 L628.98,65.37 L629.69,66.12 L630.41,66.94 L631.12,67.83 L631.83,68.77 L632.55,69.77 L633.26,70.83 L633.98,71.94 L634.69,73.09 L635.40,74.29 L636.12,75.53 L636.83,76.81 L637.55,78.13 L638.26,79.48 L638.98,80.86 L639.69,82.27 L640.40,83.70 L641.12,85.17 L641.83,86.65 L642.55,88.15 L643.26,89.67 L643.98,91.21 L644.69,92.77 L645.40,94.34 L646.12,95.92 L646.83,97.52 L647.55,99.12 L648.26,100.74 L648.97,102.36 L649.69,104.00 L650.40,105.64 L651.12,107.29 L651.83,108.94 L652.54,110.60 L653.26,112.27 L653.97,113.93 L654.69,115.61 L655.40,117.29 L656.12,118.97 L656.83,120.65 L657.54,122.34 L658.26,124.03 L658.97,125.73 L659.69,127.42 L660.40,129.12 L661.12,130.82 L661.83,132.52 L662.54,134.22 L663.26,135.92 L663.97,137.63 L664.69,139.33 L665.40,141.04" stroke="#222280" stroke-width="1.05" fill="none"/>
<text x="609.8" y="115.4" font-size="12.2" fill="#1c1c1c">sech (<tspan font-style="italic">t</tspan>)</text>
<path d="M166.3,300.0 L203.7,241.5 L241.5,300.0" stroke="#cf2f3a" stroke-width="1.05" fill="none" stroke-linejoin="miter"/>
<path d="M156.2,209.3 H203.7" stroke="#3d8a50" stroke-width="1.05" stroke-dasharray="3.5,3" fill="none"/>
<path d="M203.5,272.4 H251" stroke="#3d8a50" stroke-width="1.05" stroke-dasharray="3.5,3" fill="none"/>
<path d="M203.7,210 V300.0" stroke="#484848" stroke-width="0.85" stroke-dasharray="3.6,1.6,0.9,1.6" fill="none"/>
<text x="164.6" y="200.5" font-size="12.2" fill="#1c1c1c" font-style="italic">1/v<tspan font-size="6.8" dy="0.4">g</tspan></text>
<text x="225.3" y="260.4" font-size="12.2" fill="#1c1c1c" font-style="italic">1/v<tspan font-size="6.8" dy="0.4">g</tspan></text>
<text x="174.9" y="294" font-size="13" fill="#1c1c1c" font-style="italic">β</text>
<text x="206.8" y="296" font-size="11.5" fill="#1c1c1c" font-style="italic">ω<tspan font-size="7.5" dy="1.3">0</tspan></text>
<text x="194.0" y="186.9" font-size="12.2" text-anchor="start" fill="#1c1c1c" >Disc.</text>
<text x="194.8" y="200.8" font-size="12.2" text-anchor="start" fill="#1c1c1c" >derivative</text>
<path d="M224.80,206.90 L205.60,239.30" stroke="#1c1c1c" stroke-width="1.1" fill="none"/><path d="M205.67,233.30 L205.60,239.30 L210.83,236.36" stroke="#1c1c1c" stroke-width="1.1" fill="none"/>
<ellipse cx="181.4" cy="209.2" rx="1.4" ry="4.4" stroke="#3d8a50" stroke-width="0.95" fill="none"/><path d="M182.20,213.50 L194.00,213.60" stroke="#3d8a50" stroke-width="0.95" fill="none"/><path d="M188.77,216.93 L194.00,213.60 L188.83,210.18" stroke="#3d8a50" stroke-width="0.95" fill="none"/>
<ellipse cx="233.8" cy="272.4" rx="1.6" ry="4.5" stroke="#3d8a50" stroke-width="0.95" fill="none"/><path d="M233.50,268.00 L246.10,267.60" stroke="#3d8a50" stroke-width="0.95" fill="none"/><path d="M241.01,271.14 L246.10,267.60 L240.80,264.39" stroke="#3d8a50" stroke-width="0.95" fill="none"/>
<ellipse cx="188.5" cy="264.4" rx="1.5" ry="4.2" stroke="#cf2f3a" stroke-width="0.95" fill="none"/><path d="M188.30,260.40 L178.30,259.40" stroke="#cf2f3a" stroke-width="0.95" fill="none"/><path d="M183.81,256.56 L178.30,259.40 L183.14,263.28" stroke="#cf2f3a" stroke-width="0.95" fill="none"/>
<path d="M300.00,300.00 L300.43,300.00 L300.86,300.00 L301.29,300.00 L301.72,300.00 L302.15,300.00 L302.57,300.00 L303.00,300.00 L303.43,300.00 L303.86,300.00 L304.29,300.00 L304.72,300.00 L305.15,300.00 L305.58,300.00 L306.01,300.00 L306.44,300.00 L306.87,300.00 L307.30,300.00 L307.73,300.00 L308.15,300.00 L308.58,300.00 L309.01,300.00 L309.44,300.00 L309.87,300.00 L310.30,300.00 L310.73,300.00 L311.16,300.00 L311.59,300.00 L312.02,300.00 L312.45,300.00 L312.88,300.00 L313.30,300.00 L313.73,300.00 L314.16,300.00 L314.59,300.00 L315.02,300.00 L315.45,300.00 L315.88,300.00 L316.31,300.00 L316.74,300.00 L317.17,300.00 L317.60,300.00 L318.02,300.00 L318.45,300.00 L318.88,300.00 L319.31,300.00 L319.74,300.00 L320.17,300.00 L320.60,300.00 L321.03,300.00 L321.46,300.00 L321.89,300.00 L322.32,300.00 L322.75,300.00 L323.18,300.00 L323.60,300.00 L324.03,300.00 L324.46,300.00 L324.89,300.00 L325.32,300.00 L325.75,300.00 L326.18,300.00 L326.61,300.00 L327.04,300.00 L327.47,300.00 L327.90,300.00 L328.32,300.00 L328.75,300.00 L329.18,300.00 L329.61,300.00 L330.04,300.00 L330.47,300.00 L330.90,300.00 L331.33,300.00 L331.76,300.00 L332.19,300.00 L332.62,300.00 L333.05,300.00 L333.48,300.00 L333.90,300.00 L334.33,300.00 L334.76,300.00 L335.19,300.00 L335.62,300.00 L336.05,300.00 L336.48,300.00 L336.91,299.99 L337.34,299.99 L337.77,299.98 L338.20,299.97 L338.62,299.94 L339.05,299.91 L339.48,299.84 L339.91,299.74 L340.34,299.59 L340.77,299.35 L341.20,299.00 L341.63,298.48 L342.06,297.74 L342.49,296.71 L342.92,295.30 L343.35,293.40 L343.77,290.93 L344.20,287.76 L344.63,283.79 L345.06,278.95 L345.49,273.18 L345.92,266.48 L346.35,258.90 L346.78,250.57 L347.21,241.67 L347.64,232.47 L348.07,223.32 L348.50,214.57 L348.93,206.63 L349.35,199.89 L349.78,194.71 L350.21,191.35 L350.64,190.02 L351.07,190.78 L351.50,193.60 L351.93,198.32 L352.36,204.66 L352.79,212.31 L353.22,220.88 L353.65,229.97 L354.07,239.18 L354.50,248.19 L354.93,256.70 L355.36,264.50 L355.79,271.45 L356.22,277.47 L356.65,282.56 L357.08,286.76 L357.51,290.14 L357.94,292.79 L358.37,294.83 L358.80,296.37 L359.23,297.49 L359.65,298.30 L360.08,298.87 L360.51,299.27 L360.94,299.53 L361.37,299.71 L361.80,299.82 L362.23,299.89 L362.66,299.94 L363.09,299.96 L363.52,299.98 L363.95,299.99 L364.38,299.99 L364.80,300.00 L365.23,300.00 L365.66,300.00 L366.09,300.00 L366.52,300.00 L366.95,300.00 L367.38,300.00 L367.81,300.00 L368.24,300.00 L368.67,300.00 L369.10,300.00 L369.52,300.00 L369.95,300.00 L370.38,300.00 L370.81,300.00 L371.24,300.00 L371.67,300.00 L372.10,300.00 L372.53,300.00 L372.96,300.00 L373.39,300.00 L373.82,300.00 L374.25,300.00 L374.68,300.00 L375.10,300.00 L375.53,300.00 L375.96,300.00 L376.39,300.00 L376.82,300.00 L377.25,300.00 L377.68,300.00 L378.11,300.00 L378.54,300.00 L378.97,300.00 L379.40,300.00 L379.82,300.00 L380.25,300.00 L380.68,300.00 L381.11,300.00 L381.54,300.00 L381.97,300.00 L382.40,300.00 L382.83,300.00 L383.26,300.00 L383.69,300.00 L384.12,300.00 L384.55,300.00 L384.98,300.00 L385.40,300.00 L385.83,300.00 L386.26,300.00 L386.69,300.00 L387.12,300.00 L387.55,300.00 L387.98,300.00 L388.41,300.00 L388.84,300.00 L389.27,300.00 L389.70,300.00 L390.12,300.00 L390.55,300.00 L390.98,300.00 L391.41,300.00 L391.84,300.00 L392.27,300.00 L392.70,300.00 L393.13,300.00 L393.56,300.00 L393.99,300.00 L394.42,300.00 L394.85,300.00 L395.27,300.00 L395.70,300.00 L396.13,300.00 L396.56,300.00 L396.99,300.00 L397.42,300.00 L397.85,300.00 L398.28,300.00 L398.71,300.00 L399.14,300.00 L399.57,300.00 L400.00,300.00 L400.43,300.00 L400.85,300.00 L401.28,300.00 L401.71,300.00 L402.14,300.00 L402.57,300.00 L403.00,300.00" stroke="#ee3338" stroke-width="1.05" stroke-dasharray="3.6,2.8" fill="none"/>
<path d="M443.5,300.0 L489,220.8 L534.7,300.0" stroke="#222280" stroke-width="1.05" fill="none"/>
<text x="474.3" y="187.0" font-size="12.2" text-anchor="start" fill="#1c1c1c" >Disc.</text>
<text x="474.8" y="201.9" font-size="12.2" text-anchor="start" fill="#1c1c1c" >derivative</text>
<path d="M497.00,203.20 L492.40,218.50" stroke="#1c1c1c" stroke-width="1.05" fill="none"/><path d="M491.11,213.05 L492.40,218.50 L496.48,214.66" stroke="#1c1c1c" stroke-width="1.05" fill="none"/>
<path d="M579.70,299.50 L579.92,299.25 L580.13,299.00 L580.35,298.75 L580.56,298.51 L580.78,298.26 L580.99,298.01 L581.21,297.77 L581.42,297.52 L581.64,297.28 L581.85,297.04 L582.07,296.79 L582.28,296.55 L582.50,296.30 L582.71,296.06 L582.93,295.82 L583.14,295.57 L583.36,295.33 L583.57,295.09 L583.79,294.84 L584.00,294.60 L584.22,294.35 L584.43,294.11 L584.65,293.86 L584.86,293.62 L585.08,293.37 L585.29,293.12 L585.51,292.87 L585.72,292.63 L585.94,292.38 L586.15,292.13 L586.37,291.87 L586.58,291.62 L586.80,291.37 L587.01,291.11 L587.23,290.86 L587.44,290.60 L587.66,290.34 L587.87,290.08 L588.09,289.82 L588.30,289.56 L588.52,289.30 L588.73,289.03 L588.95,288.76 L589.16,288.50 L589.38,288.23 L589.59,287.96 L589.81,287.69 L590.02,287.43 L590.24,287.16 L590.45,286.89 L590.67,286.62 L590.88,286.35 L591.10,286.09 L591.31,285.82 L591.53,285.55 L591.74,285.28 L591.96,285.01 L592.17,284.73 L592.39,284.46 L592.60,284.19 L592.82,283.91 L593.03,283.63 L593.25,283.35 L593.46,283.07 L593.68,282.79 L593.89,282.51 L594.11,282.22 L594.33,281.93 L594.54,281.65 L594.76,281.35 L594.97,281.06 L595.19,280.76 L595.40,280.46 L595.62,280.16 L595.83,279.86 L596.05,279.55 L596.26,279.24 L596.48,278.93 L596.69,278.61 L596.91,278.29 L597.12,277.97 L597.34,277.64 L597.55,277.32 L597.77,276.99 L597.98,276.66 L598.20,276.33 L598.41,276.00 L598.63,275.66 L598.84,275.33 L599.06,274.99 L599.27,274.65 L599.49,274.31 L599.70,273.97 L599.92,273.62 L600.13,273.27 L600.35,272.92 L600.56,272.57 L600.78,272.22 L600.99,271.86 L601.21,271.50 L601.42,271.13 L601.64,270.76 L601.85,270.39 L602.07,270.02 L602.28,269.64 L602.50,269.26 L602.71,268.87 L602.93,268.49 L603.14,268.09 L603.36,267.69 L603.57,267.29 L603.79,266.89 L604.00,266.47 L604.22,266.06 L604.43,265.64 L604.65,265.22 L604.86,264.79 L605.08,264.37 L605.29,263.94 L605.51,263.51 L605.72,263.07 L605.94,262.63 L606.15,262.19 L606.37,261.75 L606.58,261.30 L606.80,260.85 L607.01,260.39 L607.23,259.93 L607.44,259.47 L607.66,259.00 L607.87,258.52 L608.09,258.04 L608.31,257.56 L608.52,257.06 L608.74,256.56 L608.95,256.06 L609.17,255.55 L609.38,255.03 L609.60,254.51 L609.81,253.97 L610.03,253.44 L610.24,252.89 L610.46,252.35 L610.67,251.80 L610.89,251.24 L611.10,250.68 L611.32,250.11 L611.53,249.54 L611.75,248.96 L611.96,248.38 L612.18,247.79 L612.39,247.19 L612.61,246.59 L612.82,245.98 L613.04,245.36 L613.25,244.74 L613.47,244.10 L613.68,243.46 L613.90,242.81 L614.11,242.16 L614.33,241.48 L614.54,240.79 L614.76,240.09 L614.97,239.38 L615.19,238.66 L615.40,237.94 L615.62,237.21 L615.83,236.48 L616.05,235.75 L616.26,235.02 L616.48,234.29 L616.69,233.58 L616.91,232.87 L617.12,232.17 L617.34,231.48 L617.55,230.78 L617.77,230.08 L617.98,229.36 L618.20,228.65 L618.41,227.95 L618.63,227.26 L618.84,226.60 L619.06,225.97 L619.27,225.38 L619.49,224.83 L619.70,224.31 L619.92,223.83 L620.13,223.36 L620.35,222.93 L620.56,222.53 L620.78,222.17 L620.99,221.86 L621.21,221.58 L621.42,221.33 L621.64,221.11 L621.85,220.94 L622.07,220.81 L622.28,220.73 L622.50,220.70 L622.72,220.73 L622.93,220.81 L623.15,220.94 L623.36,221.11 L623.58,221.33 L623.79,221.58 L624.01,221.86 L624.22,222.17 L624.44,222.53 L624.65,222.93 L624.87,223.36 L625.08,223.83 L625.30,224.31 L625.51,224.83 L625.73,225.38 L625.94,225.97 L626.16,226.60 L626.37,227.26 L626.59,227.95 L626.80,228.65 L627.02,229.36 L627.23,230.08 L627.45,230.78 L627.66,231.48 L627.88,232.17 L628.09,232.87 L628.31,233.58 L628.52,234.29 L628.74,235.02 L628.95,235.75 L629.17,236.48 L629.38,237.21 L629.60,237.94 L629.81,238.66 L630.03,239.38 L630.24,240.09 L630.46,240.79 L630.67,241.48 L630.89,242.16 L631.10,242.81 L631.32,243.46 L631.53,244.10 L631.75,244.74 L631.96,245.36 L632.18,245.98 L632.39,246.59 L632.61,247.19 L632.82,247.79 L633.04,248.38 L633.25,248.96 L633.47,249.54 L633.68,250.11 L633.90,250.68 L634.11,251.24 L634.33,251.80 L634.54,252.35 L634.76,252.89 L634.97,253.44 L635.19,253.97 L635.40,254.51 L635.62,255.03 L635.83,255.55 L636.05,256.06 L636.26,256.56 L636.48,257.06 L636.69,257.56 L636.91,258.04 L637.13,258.52 L637.34,259.00 L637.56,259.47 L637.77,259.93 L637.99,260.39 L638.20,260.85 L638.42,261.30 L638.63,261.75 L638.85,262.19 L639.06,262.63 L639.28,263.07 L639.49,263.51 L639.71,263.94 L639.92,264.37 L640.14,264.79 L640.35,265.22 L640.57,265.64 L640.78,266.06 L641.00,266.47 L641.21,266.89 L641.43,267.29 L641.64,267.69 L641.86,268.09 L642.07,268.49 L642.29,268.87 L642.50,269.26 L642.72,269.64 L642.93,270.02 L643.15,270.39 L643.36,270.76 L643.58,271.13 L643.79,271.50 L644.01,271.86 L644.22,272.22 L644.44,272.57 L644.65,272.92 L644.87,273.27 L645.08,273.62 L645.30,273.97 L645.51,274.31 L645.73,274.65 L645.94,274.99 L646.16,275.33 L646.37,275.66 L646.59,276.00 L646.80,276.33 L647.02,276.66 L647.23,276.99 L647.45,277.32 L647.66,277.64 L647.88,277.97 L648.09,278.29 L648.31,278.61 L648.52,278.93 L648.74,279.24 L648.95,279.55 L649.17,279.86 L649.38,280.16 L649.60,280.46 L649.81,280.76 L650.03,281.06 L650.24,281.35 L650.46,281.65 L650.67,281.93 L650.89,282.22 L651.11,282.51 L651.32,282.79 L651.54,283.07 L651.75,283.35 L651.97,283.63 L652.18,283.91 L652.40,284.19 L652.61,284.46 L652.83,284.73 L653.04,285.01 L653.26,285.28 L653.47,285.55 L653.69,285.82 L653.90,286.09 L654.12,286.35 L654.33,286.62 L654.55,286.89 L654.76,287.16 L654.98,287.43 L655.19,287.69 L655.41,287.96 L655.62,288.23 L655.84,288.50 L656.05,288.76 L656.27,289.03 L656.48,289.30 L656.70,289.56 L656.91,289.82 L657.13,290.08 L657.34,290.34 L657.56,290.60 L657.77,290.86 L657.99,291.11 L658.20,291.37 L658.42,291.62 L658.63,291.87 L658.85,292.13 L659.06,292.38 L659.28,292.63 L659.49,292.87 L659.71,293.12 L659.92,293.37 L660.14,293.62 L660.35,293.86 L660.57,294.11 L660.78,294.35 L661.00,294.60 L661.21,294.84 L661.43,295.09 L661.64,295.33 L661.86,295.57 L662.07,295.82 L662.29,296.06 L662.50,296.30 L662.72,296.55 L662.93,296.79 L663.15,297.04 L663.36,297.28 L663.58,297.52 L663.79,297.77 L664.01,298.01 L664.22,298.26 L664.44,298.51 L664.65,298.75 L664.87,299.00 L665.08,299.25 L665.30,299.50" stroke="#222280" stroke-width="1.05" fill="none"/>
<text y="272" font-size="12.2" fill="#1c1c1c"><tspan x="647.9">∝</tspan><tspan x="657.5">(</tspan><tspan x="661.8" font-style="italic">t</tspan><tspan x="666.3" y="267.4" font-size="7.2" font-style="italic">-2</tspan><tspan x="672.3" y="272">)</tspan><tspan x="675.3" y="264" font-size="7.3">2</tspan></text>
</svg></body></html>
